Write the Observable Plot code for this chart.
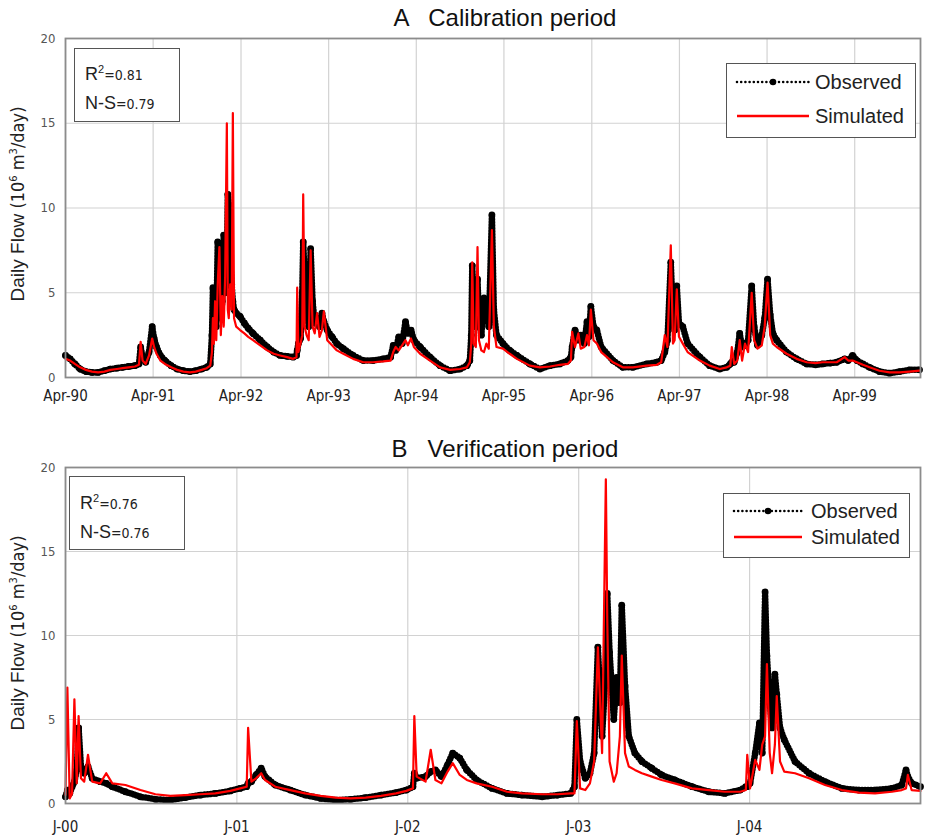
<!DOCTYPE html>
<html><head><meta charset="utf-8">
<script src="https://cdn.jsdelivr.net/npm/d3@7"></script>
<script src="https://cdn.jsdelivr.net/npm/@observablehq/plot@0.6"></script>
<style>
body{margin:0;background:#fff;}
#wrap{position:relative;width:925px;height:838px;font-family:"Liberation Sans",Arial,sans-serif;color:#111;overflow:hidden;}
.title{position:absolute;font-size:24px;white-space:pre;transform:translate(-50%,-50%);}
.ylab{position:absolute;white-space:nowrap;transform:translate(-50%,-50%) rotate(-90deg);font-size:19px;color:#222;}
.ylab .s{font-family:"Liberation Sans Narrow","DejaVu Sans Condensed",sans-serif;font-size:18px;}
.box{position:absolute;border:1.6px solid #555;box-sizing:border-box;background:#fff;}
.stat{position:absolute;left:10px;white-space:nowrap;font-size:18px;transform:translateY(-50%);color:#222;}
.stat .n{font-family:"DejaVu Sans Condensed","Liberation Sans Narrow",sans-serif;font-size:14px;}
.stat sup{font-size:11px;vertical-align:7px;}
.plot{position:absolute;left:0;}
</style></head>
<body>
<div id="wrap"></div>
<script>
// ---------- Panel A: calibration period ----------
const calDates = ["1990-04-01","1990-04-20","1990-05-10","1990-06-01","1990-06-25","1990-07-20","1990-08-15","1990-09-10","1990-10-05","1990-11-01","1990-11-25","1990-12-20","1991-01-15","1991-02-01","1991-02-08","1991-02-16","1991-03-01","1991-03-15","1991-03-28","1991-04-05","1991-04-15","1991-05-01","1991-05-20","1991-06-15","1991-07-10","1991-08-05","1991-09-01","1991-09-25","1991-10-20","1991-11-10","1991-11-25","1991-12-02","1991-12-06","1991-12-10","1991-12-15","1991-12-20","1991-12-26","1992-01-02","1992-01-08","1992-01-14","1992-01-20","1992-01-26","1992-02-02","1992-02-06","1992-02-10","1992-02-16","1992-02-22","1992-02-27","1992-03-03","1992-03-12","1992-03-28","1992-04-15","1992-05-01","1992-05-21","1992-06-20","1992-07-19","1992-08-15","1992-09-11","1992-10-10","1992-11-04","1992-11-18","1992-11-21","1992-11-26","1992-12-05","1992-12-12","1992-12-16","1992-12-22","1992-12-30","1993-01-08","1993-01-16","1993-01-24","1993-02-02","1993-02-12","1993-02-22","1993-03-04","1993-03-12","1993-03-26","1993-04-15","1993-05-05","1993-06-01","1993-07-12","1993-08-23","1993-10-03","1993-11-14","1993-12-15","1993-12-26","1994-01-05","1994-01-18","1994-02-01","1994-02-15","1994-02-25","1994-03-10","1994-03-22","1994-04-17","1994-05-28","1994-07-09","1994-08-20","1994-09-30","1994-10-29","1994-11-10","1994-11-16","1994-11-20","1994-11-26","1994-12-05","1994-12-12","1994-12-18","1994-12-28","1995-01-08","1995-01-18","1995-01-28","1995-02-10","1995-02-18","1995-03-01","1995-03-28","1995-04-25","1995-05-25","1995-07-18","1995-08-29","1995-10-10","1995-11-20","1995-12-23","1996-01-05","1996-01-10","1996-01-22","1996-02-05","1996-02-15","1996-03-01","1996-03-12","1996-03-20","1996-03-28","1996-04-08","1996-04-22","1996-05-10","1996-06-28","1996-08-08","1996-09-19","1996-11-16","1996-12-28","1997-01-15","1997-01-30","1997-02-10","1997-02-24","1997-03-05","1997-03-12","1997-03-21","1997-03-30","1997-04-15","1997-05-05","1997-06-25","1997-08-05","1997-09-16","1997-10-15","1997-10-30","1997-11-05","1997-11-15","1997-11-28","1997-12-08","1997-12-18","1997-12-30","1998-01-12","1998-01-27","1998-02-06","1998-02-20","1998-03-10","1998-03-22","1998-04-03","1998-04-14","1998-04-25","1998-05-11","1998-06-21","1998-08-02","1998-09-13","1998-10-20","1998-11-18","1998-12-20","1999-01-16","1999-02-18","1999-03-05","1999-03-23","1999-04-10","1999-05-05","1999-06-02","1999-07-13","1999-08-24","1999-10-05","1999-11-15","1999-12-27"];
const calObs = [1.3,1.1,0.8,0.5,0.35,0.3,0.3,0.4,0.5,0.55,0.6,0.65,0.7,0.8,1.8,1.2,0.9,1.5,3.0,2.3,1.8,1.3,1.0,0.7,0.5,0.4,0.35,0.4,0.5,0.6,0.8,2.5,5.3,3.5,5.0,3.0,8.0,5.0,3.5,4.5,8.4,5.0,6.5,10.8,10.2,7.0,5.5,4.5,4.0,3.8,3.6,3.2,2.9,2.6,2.2,1.8,1.5,1.3,1.25,1.2,1.3,1.6,2.0,2.3,5.0,8.0,6.0,4.0,3.0,7.6,4.5,3.2,3.5,3.0,3.8,3.3,2.8,2.4,2.0,1.7,1.3,1.0,1.0,1.1,1.2,1.9,1.6,2.4,2.0,3.3,2.6,2.8,2.2,1.8,1.2,0.7,0.4,0.5,0.7,1.0,2.5,6.6,4.5,3.0,5.8,3.5,2.5,4.7,4.3,3.0,9.6,4.0,2.5,2.0,1.6,1.3,0.8,0.5,0.7,0.8,1.0,1.2,1.8,2.8,2.2,2.5,2.0,3.3,2.4,4.2,3.0,2.8,1.8,1.0,0.6,0.6,0.8,0.9,1.0,1.5,2.2,6.8,3.5,2.8,5.4,3.2,3.0,2.0,1.2,0.7,0.5,0.6,0.8,0.9,0.9,1.5,2.6,1.8,1.9,2.2,5.4,3.0,1.9,2.5,3.5,5.8,3.7,2.6,2.2,1.5,1.1,0.8,0.75,0.8,0.85,0.9,1.1,1.0,1.3,1.0,0.8,0.6,0.35,0.25,0.35,0.45,0.45];
const calSim = [1.1,1.0,0.8,0.6,0.45,0.35,0.3,0.35,0.45,0.5,0.55,0.6,0.65,0.75,2.1,1.0,0.8,1.3,2.3,1.8,1.4,1.0,0.8,0.6,0.45,0.35,0.3,0.35,0.45,0.55,0.7,1.5,3.5,2.0,4.5,2.2,5.5,7.7,2.5,4.8,3.0,6.0,15.0,4.0,3.5,5.5,4.0,15.6,3.5,3.0,2.8,2.6,2.4,2.2,1.9,1.6,1.4,1.3,1.2,1.1,1.2,5.3,1.5,2.0,2.5,10.8,3.0,2.5,2.2,7.5,3.0,2.6,3.8,2.4,2.8,3.9,2.2,1.9,1.6,1.4,1.1,0.9,0.9,0.95,1.0,1.5,1.8,1.6,1.9,2.2,1.9,2.3,1.8,1.4,1.0,0.6,0.45,0.5,0.6,0.9,2.0,6.8,2.0,1.8,7.7,2.2,1.6,1.5,2.0,1.7,8.7,3.0,1.8,1.7,1.4,1.1,0.7,0.6,0.65,0.75,0.8,1.0,2.7,1.8,2.6,1.7,1.8,2.5,1.9,4.0,2.2,2.0,1.5,0.9,0.6,0.6,0.7,0.75,0.9,2.5,1.8,7.8,2.0,2.2,5.2,2.4,2.0,1.5,1.0,0.7,0.5,0.6,0.7,1.8,0.8,1.0,2.2,1.0,2.0,1.5,5.0,2.2,1.7,1.9,3.0,5.6,2.5,2.0,1.8,1.4,1.1,0.9,0.85,0.9,0.9,0.9,1.2,1.0,1.0,0.9,0.75,0.6,0.4,0.3,0.3,0.35,0.4];
const calDomain = ["1990-04-01","1999-12-31"];
const calTickDates = ["1990-04-01","1991-04-01","1992-04-01","1993-04-01","1994-04-01","1995-04-01","1996-04-01","1997-04-01","1998-04-01","1999-04-01"];
const calTickLabels = ["Apr-90","Apr-91","Apr-92","Apr-93","Apr-94","Apr-95","Apr-96","Apr-97","Apr-98","Apr-99"];
const calStats = ["0.81","0.79"];

// ---------- Panel B: verification period ----------
const verDates = ["2000-01-01","2000-01-05","2000-01-10","2000-01-15","2000-01-20","2000-01-25","2000-01-29","2000-02-03","2000-02-10","2000-02-18","2000-02-27","2000-03-15","2000-03-28","2000-04-10","2000-05-08","2000-06-09","2000-07-11","2000-08-12","2000-09-13","2000-10-15","2000-11-16","2000-12-18","2001-01-08","2001-01-22","2001-01-25","2001-02-01","2001-02-11","2001-02-22","2001-03-02","2001-03-24","2001-04-25","2001-05-27","2001-06-29","2001-07-31","2001-09-01","2001-10-03","2001-11-05","2001-12-07","2001-12-29","2002-01-12","2002-01-15","2002-01-20","2002-02-08","2002-02-19","2002-03-01","2002-03-14","2002-03-27","2002-04-07","2002-04-22","2002-05-07","2002-05-28","2002-06-30","2002-08-01","2002-09-02","2002-10-15","2002-11-17","2002-12-15","2002-12-23","2002-12-28","2003-01-04","2003-01-15","2003-01-25","2003-02-03","2003-02-11","2003-02-20","2003-02-28","2003-03-03","2003-03-08","2003-03-17","2003-03-23","2003-03-30","2003-04-03","2003-04-10","2003-04-18","2003-05-01","2003-05-16","2003-06-06","2003-06-27","2003-07-25","2003-08-31","2003-10-06","2003-11-09","2003-12-12","2003-12-24","2003-12-27","2004-01-02","2004-01-13","2004-01-22","2004-01-28","2004-02-03","2004-02-07","2004-02-13","2004-02-18","2004-02-24","2004-02-28","2004-03-06","2004-03-15","2004-04-07","2004-05-07","2004-06-10","2004-07-16","2004-08-21","2004-09-25","2004-10-31","2004-11-21","2004-11-30","2004-12-04","2004-12-12","2004-12-31"];
const verObs = [0.4,0.8,0.6,1.0,1.3,2.0,4.5,2.2,1.8,2.2,1.5,1.3,1.2,1.0,0.7,0.4,0.25,0.2,0.35,0.5,0.6,0.75,0.9,1.0,1.2,1.3,1.7,2.1,1.6,1.1,0.8,0.5,0.3,0.2,0.25,0.35,0.5,0.65,0.8,1.0,1.8,1.5,1.6,1.9,2.0,1.6,2.3,3.0,2.7,2.0,1.4,0.9,0.6,0.5,0.4,0.5,0.6,1.0,5.0,2.5,1.5,1.8,3.0,9.3,4.0,8.0,12.5,9.0,5.0,7.5,6.0,11.8,7.0,4.0,3.0,2.5,2.1,1.7,1.4,1.0,0.7,0.6,0.8,1.0,1.0,1.2,3.0,4.8,3.0,12.6,8.8,6.0,4.5,7.7,6.5,4.5,3.8,2.5,1.8,1.3,0.9,0.8,0.8,0.9,1.1,2.0,1.6,1.2,1.0];
const verSim = [0.5,6.9,0.3,0.6,6.2,1.2,5.2,1.5,1.3,2.9,1.3,1.2,1.8,1.2,1.1,0.8,0.55,0.45,0.5,0.55,0.6,0.75,0.9,1.0,4.5,1.3,1.5,1.8,1.4,1.0,0.8,0.6,0.45,0.35,0.3,0.35,0.45,0.6,0.75,0.9,5.2,1.6,1.3,3.2,1.4,1.2,1.9,2.4,1.7,1.4,1.2,1.0,0.7,0.6,0.55,0.55,0.6,0.6,4.9,0.9,0.8,1.2,2.5,9.3,3.0,19.3,11.0,2.5,1.3,1.8,4.0,8.8,3.0,2.2,2.0,1.8,1.6,1.4,1.2,0.9,0.8,0.7,0.7,0.8,2.9,0.9,2.6,2.0,3.5,4.0,8.3,3.0,1.8,3.5,6.4,2.5,1.9,1.8,1.5,1.1,0.8,0.65,0.6,0.7,0.8,0.9,1.7,0.8,0.75];
const verDomain = ["2000-01-01","2004-12-31"];
const verTickDates = ["2000-01-01","2001-01-01","2002-01-01","2003-01-01","2004-01-01"];
const verTickLabels = ["J-00","J-01","J-02","J-03","J-04"];
const verStats = ["0.76","0.76"];

const seriesNames = ["Observed","Simulated"];
const yTicks = [0,5,10,15,20];
const yGrid = [5,10,15];

const narrow = '"Liberation Sans Narrow","DejaVu Sans Condensed",sans-serif';

function panel(dates, obs, sim, domain, tickDates, tickLabels, opts) {
  const data = dates.map((d, i) => ({date: new Date(d), obs: obs[i], sim: sim[i]}));
  const ticks = tickDates.map(d => new Date(d));
  const lab = new Map(ticks.map((t, i) => [+t, tickLabels[i]]));
  return Plot.plot({
    width: 925, height: opts.height,
    marginLeft: 65, marginRight: 5, marginTop: opts.marginTop, marginBottom: opts.marginBottom,
    style: {background: "transparent", color: "#333", fontFamily: "Liberation Sans, Arial, sans-serif"},
    x: {type: "utc", domain: domain.map(d => new Date(d))},
    y: {domain: [0, 20]},
    marks: [
      Plot.gridX(ticks, {stroke: "#d2d2d2", strokeOpacity: 1, strokeWidth: 1.2}),
      Plot.gridY(yGrid, {stroke: "#d2d2d2", strokeOpacity: 1, strokeWidth: 1.2}),
      Plot.line(data, {x: "date", y: "obs", stroke: "#000", strokeWidth: 6.5, strokeDasharray: "0,3", strokeLinecap: "round", strokeLinejoin: "round"}),
      Plot.dot(data, {x: "date", y: "obs", r: 3.4, fill: "#000", stroke: "none"}),
      Plot.line(data, {x: "date", y: "sim", stroke: "#ff0000", strokeWidth: 2.2}),
      Plot.frame({stroke: "#8c8c8c", strokeWidth: 1.8}),
      Plot.axisX(ticks, {tickSize: 0, tickPadding: opts.tickPadding, label: null, fontSize: 15, fontFamily: narrow, fill: "#222", tickFormat: d => lab.get(+d)}),
      Plot.axisY(yTicks, {tickSize: 0, tickPadding: 10, label: null, fontSize: 13, fontFamily: narrow, fill: "#555"})
    ]
  });
}

const wrap = document.getElementById("wrap");
function add(html) { wrap.insertAdjacentHTML("beforeend", html); }

const pA = panel(calDates, calObs, calSim, calDomain, calTickDates, calTickLabels, {height: 379, marginTop: 10, marginBottom: 30, tickPadding: 13});
pA.classList.add("plot"); pA.style.top = "28px"; wrap.appendChild(pA);
const pB = panel(verDates, verObs, verSim, verDomain, verTickDates, verTickLabels, {height: 379, marginTop: 10, marginBottom: 33, tickPadding: 18});
pB.classList.add("plot"); pB.style.top = "457px"; wrap.appendChild(pB);

add('<div class="title" style="left:505px;top:18px">A   Calibration period</div>');
add('<div class="title" style="left:505px;top:449px">B   Verification period</div>');
const ylab = 'Daily Flow <span class="s">(10<sup style="font-size:11px">6</sup> m<sup style="font-size:11px">3</sup>/day)</span>';
add('<div class="ylab" style="left:18px;top:204px">' + ylab + '</div>');
add('<div class="ylab" style="left:18px;top:633px">' + ylab + '</div>');

function stats(left, top, w, h, vals, y1, y2) {
  add('<div class="box" style="left:' + left + 'px;top:' + top + 'px;width:' + w + 'px;height:' + h + 'px">' +
      '<div class="stat" style="top:' + y1 + 'px">R<sup>2</sup><span class="n">=' + vals[0] + '</span></div>' +
      '<div class="stat" style="top:' + y2 + 'px">N-S<span class="n">=' + vals[1] + '</span></div></div>');
}
stats(74, 48, 106, 74, calStats, 25, 54);
stats(69, 476, 116, 74, verStats, 26, 55);

function legend(left, top, w, h, y1, y2, x0, x1, tx) {
  const xm = (x0 + x1) / 2;
  add('<div class="box" style="left:' + left + 'px;top:' + top + 'px;width:' + w + 'px;height:' + h + 'px">' +
    '<svg width="' + w + '" height="' + h + '" style="position:absolute;left:-1.6px;top:-1.6px;font-family:Liberation Sans,Arial,sans-serif">' +
    '<line x1="' + x0 + '" x2="' + x1 + '" y1="' + y1 + '" y2="' + y1 + '" stroke="#000" stroke-width="2.6" stroke-dasharray="0,4.2" stroke-linecap="round"/>' +
    '<circle cx="' + xm + '" cy="' + y1 + '" r="3.3" fill="#000"/>' +
    '<line x1="' + x0 + '" x2="' + x1 + '" y1="' + y2 + '" y2="' + y2 + '" stroke="#ff0000" stroke-width="2.4"/>' +
    '<text x="' + tx + '" y="' + y1 + '" dy="0.36em" font-size="20" fill="#222">' + seriesNames[0] + '</text>' +
    '<text x="' + tx + '" y="' + y2 + '" dy="0.36em" font-size="20" fill="#222">' + seriesNames[1] + '</text>' +
    '</svg></div>');
}
legend(726, 63, 190, 75, 20, 54, 12, 84, 90);
legend(723, 493, 187, 65, 19, 45, 12, 80, 89);
</script>
</body></html>
